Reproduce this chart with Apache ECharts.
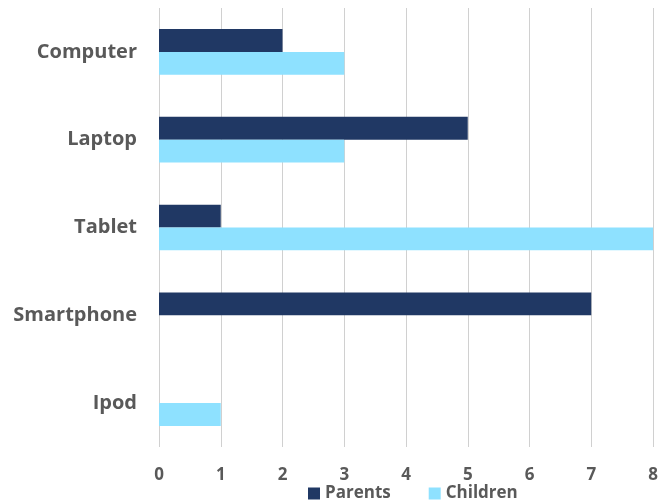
<!DOCTYPE html>
<html>
<head>
<meta charset="utf-8">
<script src="https://cdn.jsdelivr.net/npm/echarts@6/dist/echarts.min.js"></script>
<style>
  html, body { margin: 0; padding: 0; background: #ffffff; }
  #chart { width: 668px; height: 502px; }
</style>
</head>
<body>
<div id="chart"></div>
<script>
// Devices used by parents and children
const categories = ['Computer', 'Laptop', 'Tablet', 'Smartphone', 'Ipod'];
const parents = [2, 5, 1, 7, 0];
const children = [3, 3, 8, 0, 1];
const xTicks = [0, 1, 2, 3, 4, 5, 6, 7, 8];

const textColor = '#595959';
const fontFamily = '"Open Sans", "Liberation Sans", sans-serif';

const chart = echarts.init(document.getElementById('chart'));
chart.setOption({
  animation: false,
  textStyle: { fontFamily: fontFamily },
  grid: { left: 159, right: 15, top: 8, bottom: 55, containLabel: false },
  legend: {
    bottom: 0,
    left: 308,
    padding: 0,
    itemWidth: 12,
    itemHeight: 12,
    itemGap: 38,
    icon: 'rect',
    textStyle: { color: textColor, fontSize: 17, fontWeight: 'bold', fontFamily: fontFamily },
    data: ['Parents', 'Children']
  },
  xAxis: {
    type: 'value',
    min: xTicks[0],
    max: xTicks[xTicks.length - 1],
    interval: 1,
    axisLine: { show: false },
    axisTick: { show: false },
    axisLabel: { color: textColor, fontSize: 17, fontWeight: 'bold', margin: 20 },
    splitLine: { show: true, lineStyle: { color: '#d0d0d0', width: 1 } }
  },
  yAxis: {
    type: 'category',
    inverse: true,
    data: categories,
    axisLine: { show: false },
    axisTick: { show: false },
    axisLabel: { color: textColor, fontSize: 20, fontWeight: 'bold', margin: 22 }
  },
  series: [
    {
      name: 'Parents',
      type: 'bar',
      data: parents,
      barGap: '0%',
      barCategoryGap: '48%',
      itemStyle: { color: '#203864' }
    },
    {
      name: 'Children',
      type: 'bar',
      data: children,
      barGap: '0%',
      barCategoryGap: '48%',
      itemStyle: { color: '#8EE1FF' }
    }
  ]
});
</script>
</body>
</html>
